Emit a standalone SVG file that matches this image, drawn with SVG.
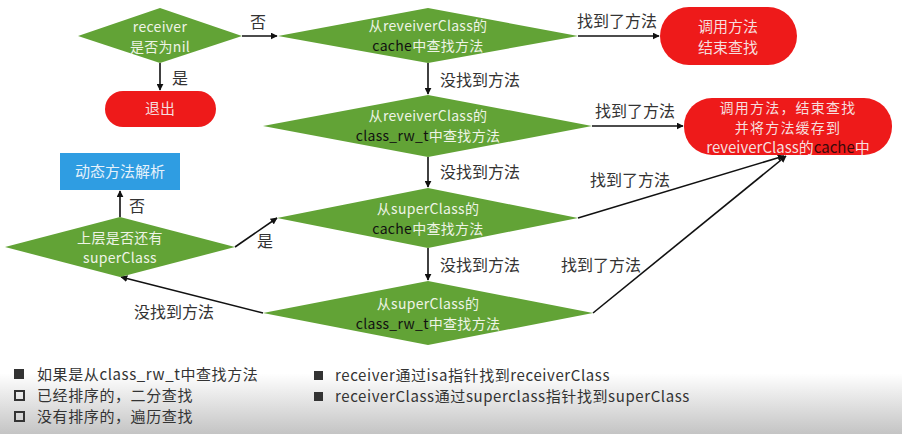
<svg xmlns="http://www.w3.org/2000/svg" width="902" height="434" viewBox="0 0 902 434">
<defs>
<marker id="ah" viewBox="0 0 10 10" refX="9" refY="5" markerWidth="7" markerHeight="7" markerUnits="userSpaceOnUse" orient="auto">
<path d="M0,0 L10,5 L0,10 z" fill="#111"/>
</marker>
<linearGradient id="bg" x1="0" y1="0" x2="0" y2="1">
<stop offset="0" stop-color="#ffffff"/>
<stop offset="0.86" stop-color="#ffffff"/>
<stop offset="1" stop-color="#c4c4c4"/>
</linearGradient>
<style>
text{font-family:"Noto Sans CJK SC","Noto Sans",sans-serif;}
.d{fill:#62a336;}
.r{fill:#ee1a1a;}
.dt{font-size:14px;fill:#eef4e6;text-anchor:middle;letter-spacing:0.3px;}
.k{fill:#111;}
.rt{font-size:15px;fill:#f6dede;text-anchor:middle;}
.rt2{font-size:14px;fill:#f6dede;text-anchor:middle;letter-spacing:1.2px;}
.lb{font-size:16px;fill:#333;}
.c{stroke:#111;stroke-width:1.6;fill:none;}
.ft{font-size:15px;fill:#333;letter-spacing:0.6px;}
</style>
</defs>
<rect x="0" y="0" width="902" height="434" fill="url(#bg)"/>

<g id="connectors">
<line class="c" x1="242" y1="36" x2="277" y2="36" marker-end="url(#ah)"/>
<line class="c" x1="160" y1="63" x2="160" y2="90" marker-end="url(#ah)"/>
<line class="c" x1="578" y1="36" x2="659" y2="36" marker-end="url(#ah)"/>
<line class="c" x1="428" y1="63" x2="428" y2="94" marker-end="url(#ah)"/>
<line class="c" x1="592" y1="126" x2="683" y2="126" marker-end="url(#ah)"/>
<line class="c" x1="428" y1="157" x2="428" y2="187" marker-end="url(#ah)"/>
<line class="c" x1="428" y1="248" x2="428" y2="280" marker-end="url(#ah)"/>
<line class="c" x1="578" y1="218" x2="784" y2="156" marker-end="url(#ah)"/>
<line class="c" x1="593" y1="313" x2="786" y2="156" marker-end="url(#ah)"/>
<line class="c" x1="263" y1="313" x2="121" y2="277" marker-end="url(#ah)"/>
<line class="c" x1="235" y1="247" x2="277" y2="218" marker-end="url(#ah)"/>
<line class="c" x1="120" y1="217" x2="120" y2="191" marker-end="url(#ah)"/>
<text class="lb" x="250" y="28">否</text>
<text class="lb" x="172" y="84">是</text>
<text class="lb" x="577" y="27">找到了方法</text>
<text class="lb" x="440" y="86">没找到方法</text>
<text class="lb" x="595" y="117">找到了方法</text>
<text class="lb" x="440" y="178">没找到方法</text>
<text class="lb" x="590" y="186">找到了方法</text>
<text class="lb" x="440" y="271">没找到方法</text>
<text class="lb" x="561" y="271">找到了方法</text>
<text class="lb" x="134" y="318">没找到方法</text>
<text class="lb" x="257" y="247">是</text>
<text class="lb" x="129" y="212">否</text>
</g>

<g id="n-receiver">
<polygon class="d" points="78,36 160,8 242,36 160,63"/>
<text class="dt" x="160" y="32">receiver</text>
<text class="dt" x="160" y="52">是否为nil</text>
</g>

<g id="n-exit">
<rect class="r" x="105" y="91" width="111" height="36" rx="18"/>
<text class="rt" x="160" y="114">退出</text>
</g>

<g id="n-cache1">
<polygon class="d" points="278,36 428,8 578,36 428,63"/>
<text class="dt" x="428" y="31">从reveiverClass的</text>
<text class="dt" x="428" y="51"><tspan class="k">cache</tspan>中查找方法</text>
</g>

<g id="n-call1">
<rect class="r" x="660" y="7" width="137" height="58" rx="29"/>
<text class="rt" x="728" y="32">调用方法</text>
<text class="rt" x="728" y="53">结束查找</text>
</g>

<g id="n-rw1">
<polygon class="d" points="263,126 428,95 592,126 428,157"/>
<text class="dt" x="428" y="121">从reveiverClass的</text>
<text class="dt" x="428" y="141"><tspan class="k">class_rw_t</tspan>中查找方法</text>
</g>

<g id="n-call2">
<rect class="r" x="684" y="98" width="208" height="57" rx="28"/>
<text class="rt2" x="788" y="113">调用方法，结束查找</text>
<text class="rt2" x="788" y="133">并将方法缓存到</text>
<text class="rt" x="788" y="153">reveiverClass的<tspan fill="#3a0a0a">cache</tspan>中</text>
</g>

<g id="n-cache2">
<polygon class="d" points="277,218 428,188 578,218 428,248"/>
<text class="dt" x="428" y="214">从superClass的</text>
<text class="dt" x="428" y="234"><tspan class="k">cache</tspan>中查找方法</text>
</g>

<g id="n-rw2">
<polygon class="d" points="263,313 428,281 593,313 428,345"/>
<text class="dt" x="428" y="309">从superClass的</text>
<text class="dt" x="428" y="329"><tspan class="k">class_rw_t</tspan>中查找方法</text>
</g>

<g id="n-super">
<polygon class="d" points="5,247 120,217 235,247 120,277"/>
<text class="dt" x="120" y="243">上层是否还有</text>
<text class="dt" x="120" y="263">superClass</text>
</g>

<g id="n-resolve">
<rect x="60" y="153" width="120" height="37" fill="#2f9de2"/>
<text class="rt" x="120" y="177" style="fill:#e6f2fb">动态方法解析</text>
</g>

<g id="notes">
<rect x="14" y="369" width="10" height="10" fill="#333"/>
<text class="ft" x="37" y="380">如果是从class_rw_t中查找方法</text>
<rect x="15" y="391" width="9" height="9" fill="none" stroke="#333" stroke-width="2"/>
<text class="ft" x="37" y="401">已经排序的，二分查找</text>
<rect x="15" y="412" width="9" height="9" fill="none" stroke="#333" stroke-width="2"/>
<text class="ft" x="37" y="422">没有排序的，遍历查找</text>
<rect x="314" y="371" width="9" height="9" fill="#333"/>
<text class="ft" x="335" y="381">receiver通过isa指针找到receiverClass</text>
<rect x="314" y="392" width="9" height="9" fill="#333"/>
<text class="ft" x="335" y="402">receiverClass通过superclass指针找到superClass</text>
</g>
</svg>
